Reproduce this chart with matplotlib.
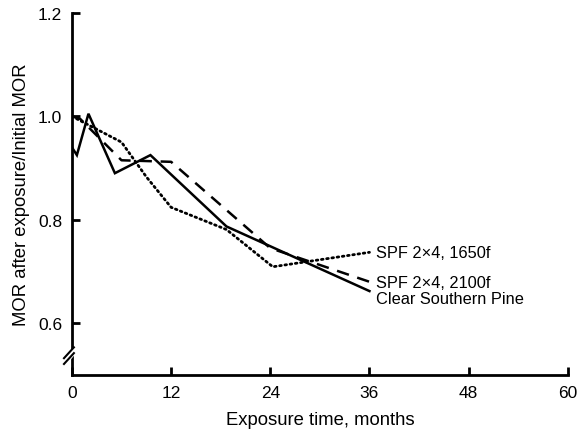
import matplotlib.pyplot as plt
import numpy as np

plt.rcParams['font.family'] = ['Liberation Sans', 'DejaVu Sans']

# months / ratio values
t_pine = [0, 0.6, 2, 5.2, 9.5, 18.7, 36]
r_pine = [0.94, 0.925, 1.005, 0.89, 0.925, 0.787, 0.662]

t_2100 = [0, 1, 6, 12, 24, 36]
r_2100 = [1.0, 0.995, 0.915, 0.912, 0.745, 0.68]

t_1650 = [0, 3, 6, 9, 12, 18.7, 24.3, 36]
r_1650 = [1.0, 0.975, 0.95, 0.883, 0.824, 0.781, 0.709, 0.737]

labels = ['SPF 2\u00d74, 1650f', 'SPF 2\u00d74, 2100f', 'Clear Southern Pine']
label_y = [0.737, 0.678, 0.647]

xticks = [0, 12, 24, 36, 48, 60]
yticks = [0.6, 0.8, 1.0, 1.2]

fig = plt.figure(figsize=(5.8, 4.35), dpi=100)
ax = fig.add_axes([0.124, 0.136, 0.855, 0.832])

ax.plot(t_pine, r_pine, color='black', lw=1.8, solid_joinstyle='miter')
ax.plot(t_2100, r_2100, color='black', lw=1.8, dashes=(5, 3.5))
ax.plot(t_1650, r_1650, color='black', lw=2.0, linestyle=(0, (0.6, 1.3)),
        dash_capstyle='round')

for lab, yy in zip(labels, label_y):
    ax.text(36.8, yy, lab, fontsize=11.8, va='center', ha='left')

ax.set_xlim(0, 60)
ax.set_ylim(0.5, 1.2)
ax.set_xticks(xticks)
ax.set_xticklabels([str(v) for v in xticks])
ax.set_yticks(yticks)
ax.set_yticklabels(['%.1f' % v for v in yticks])
ax.tick_params(direction='in', length=6, width=2, labelsize=12.5, pad=7)

for s in ['top', 'right']:
    ax.spines[s].set_visible(False)
for s in ['left', 'bottom']:
    ax.spines[s].set_linewidth(2)

ax.set_xlabel('Exposure time, months', fontsize=13.3, labelpad=8)
ax.set_ylabel('MOR after exposure/Initial MOR', fontsize=13.3, labelpad=6)

# axis break marks
ax.plot([-0.012, 0.006], [0.038, 0.068], transform=ax.transAxes, color='white',
        lw=4, clip_on=False, zorder=5)
for dy in [0.0, 0.016]:
    ax.plot([-0.016, 0.004], [0.030 + dy, 0.060 + dy], transform=ax.transAxes,
            color='black', lw=1.5, clip_on=False, zorder=6)

fig.savefig('out.png', dpi=100)
